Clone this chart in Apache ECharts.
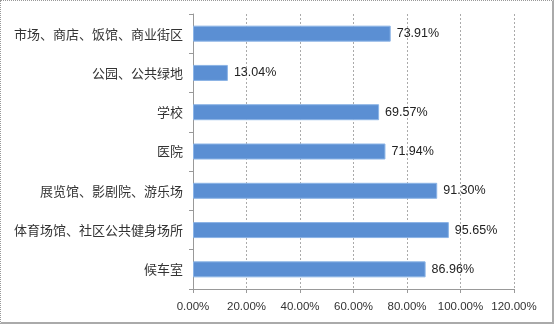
<!DOCTYPE html>
<html><head><meta charset="utf-8">
<script src="https://cdn.jsdelivr.net/npm/echarts@6/dist/echarts.min.js"></script>
<style>html,body{margin:0;padding:0;background:#fff}#c{width:554px;height:324px;box-sizing:border-box;border:1px dotted #999;border-right:2px solid #aaa;border-bottom:2px solid #aaa}</style>
</head><body><div id="c"></div>
<script>
const categories = ['市场、商店、饭馆、商业街区','公园、公共绿地','学校','医院','展览馆、影剧院、游乐场','体育场馆、社区公共健身场所','候车室'];
const values = [73.91, 13.04, 69.57, 71.94, 91.30, 95.65, 86.96];
const axisMax = 120;
const axisStep = 20;
const chart = echarts.init(document.getElementById('c'));
chart.setOption({
  animation:false,
  grid:{left:192,right:38,top:13,bottom:33,containLabel:false},
  xAxis:{type:'value',min:0,max:axisMax,interval:axisStep,
    axisLine:{show:true,lineStyle:{color:'#999'}},
    axisTick:{show:true,length:4,lineStyle:{color:'#999'}},
    splitLine:{show:true,lineStyle:{color:'#aaa',type:[2,2]}},
    axisLabel:{formatter:v=>v.toFixed(2)+'%',color:'#333',fontSize:11.5,fontFamily:'Liberation Sans',margin:12}},
  yAxis:{type:'category',data:categories,inverse:true,
    axisLine:{show:true,lineStyle:{color:'#999'}},
    axisTick:{show:true,length:4,lineStyle:{color:'#999'}},
    axisLabel:{color:'#333',fontSize:13,fontFamily:'Noto Sans CJK SC',margin:10}},
  series:[{type:'bar',data:values,barWidth:16,
    itemStyle:{color:'#5b8fd3',borderColor:'#8cb4e6',borderWidth:1},
    label:{show:true,position:'right',distance:6,formatter:p=>p.value.toFixed(2)+'%',color:'#222',fontSize:12.5,fontFamily:'Liberation Sans'}}]
});
</script></body></html>
